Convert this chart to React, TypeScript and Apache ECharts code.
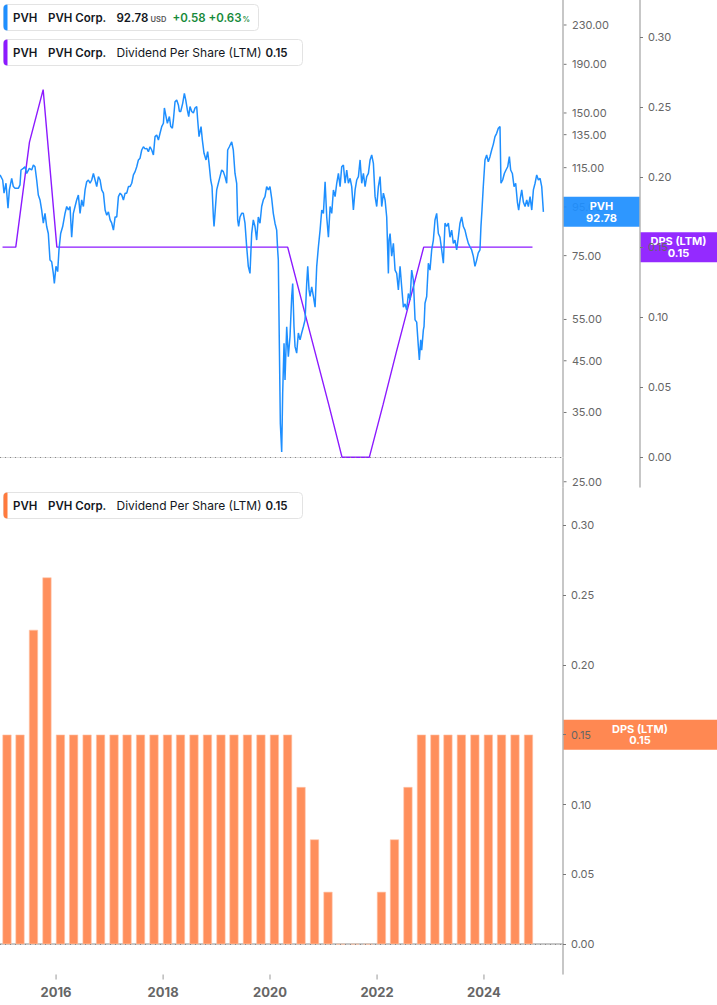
import { useEffect, useRef } from "react";
import * as echarts from "echarts";

// ---------- data ----------
const priceYears = [
  2015.036, 2015.085, 2015.110, 2015.146, 2015.183, 2015.208, 2015.251, 2015.281, 2015.312, 2015.373,
  2015.404, 2015.422, 2015.465, 2015.496, 2015.527, 2015.576, 2015.619, 2015.650, 2015.680, 2015.711,
  2015.741, 2015.772, 2015.803, 2015.833, 2015.864, 2015.895, 2015.925, 2015.956, 2015.987, 2016.017,
  2016.036, 2016.066, 2016.097, 2016.121, 2016.152, 2016.189, 2016.232, 2016.263, 2016.293, 2016.324,
  2016.354, 2016.385, 2016.416, 2016.446, 2016.477, 2016.508, 2016.538, 2016.569, 2016.600, 2016.630,
  2016.661, 2016.692, 2016.722, 2016.753, 2016.784, 2016.814, 2016.845, 2016.876, 2016.906, 2016.937,
  2016.968, 2016.998, 2017.029, 2017.060, 2017.090, 2017.121, 2017.152, 2017.182, 2017.213, 2017.244,
  2017.274, 2017.305, 2017.336, 2017.366, 2017.397, 2017.427, 2017.458, 2017.489, 2017.520, 2017.550,
  2017.581, 2017.611, 2017.642, 2017.673, 2017.703, 2017.734, 2017.765, 2017.795, 2017.826, 2017.857,
  2017.887, 2017.918, 2017.949, 2017.979, 2018.010, 2018.041, 2018.059, 2018.090, 2018.114, 2018.151,
  2018.176, 2018.206, 2018.225, 2018.255, 2018.286, 2018.317, 2018.335, 2018.360, 2018.396, 2018.427,
  2018.452, 2018.482, 2018.507, 2018.531, 2018.562, 2018.593, 2018.623, 2018.654, 2018.672, 2018.697,
  2018.734, 2018.758, 2018.789, 2018.826, 2018.856, 2018.881, 2018.912, 2018.936, 2018.961, 2018.973,
  2018.991, 2019.022, 2019.052, 2019.083, 2019.114, 2019.144, 2019.175, 2019.206, 2019.224, 2019.255,
  2019.298, 2019.328, 2019.359, 2019.390, 2019.408, 2019.426, 2019.451, 2019.482, 2019.512, 2019.543,
  2019.574, 2019.604, 2019.635, 2019.666, 2019.696, 2019.727, 2019.758, 2019.788, 2019.819, 2019.850,
  2019.880, 2019.911, 2019.942, 2019.972, 2020.003, 2020.034, 2020.064, 2020.095, 2020.126, 2020.144,
  2020.156, 2020.174, 2020.193, 2020.218, 2020.236, 2020.261, 2020.279, 2020.310, 2020.340, 2020.371,
  2020.402, 2020.420, 2020.444, 2020.463, 2020.493, 2020.524, 2020.555, 2020.585, 2020.616, 2020.647,
  2020.677, 2020.696, 2020.720, 2020.739, 2020.769, 2020.800, 2020.831, 2020.861, 2020.892, 2020.923,
  2020.953, 2020.984, 2021.015, 2021.045, 2021.076, 2021.107, 2021.137, 2021.168, 2021.199, 2021.229,
  2021.260, 2021.291, 2021.321, 2021.352, 2021.383, 2021.413, 2021.444, 2021.475, 2021.505, 2021.536,
  2021.567, 2021.597, 2021.628, 2021.659, 2021.689, 2021.720, 2021.751, 2021.781, 2021.812, 2021.843,
  2021.873, 2021.904, 2021.935, 2021.965, 2021.996, 2022.027, 2022.057, 2022.088, 2022.119, 2022.149,
  2022.180, 2022.192, 2022.211, 2022.241, 2022.272, 2022.303, 2022.333, 2022.364, 2022.395, 2022.425,
  2022.456, 2022.487, 2022.517, 2022.548, 2022.579, 2022.609, 2022.640, 2022.671, 2022.701, 2022.732,
  2022.750, 2022.775, 2022.793, 2022.824, 2022.836, 2022.854, 2022.885, 2022.916, 2022.946, 2022.977,
  2023.008, 2023.038, 2023.069, 2023.100, 2023.130, 2023.161, 2023.192, 2023.222, 2023.253, 2023.284,
  2023.314, 2023.345, 2023.376, 2023.406, 2023.437, 2023.468, 2023.498, 2023.529, 2023.560, 2023.590,
  2023.621, 2023.652, 2023.682, 2023.713, 2023.743, 2023.774, 2023.805, 2023.835, 2023.866, 2023.884,
  2023.903, 2023.927, 2023.958, 2023.989, 2024.019, 2024.050, 2024.081, 2024.111, 2024.142, 2024.173,
  2024.203, 2024.234, 2024.252, 2024.283, 2024.314, 2024.344, 2024.375, 2024.406, 2024.430, 2024.461,
  2024.492, 2024.522, 2024.553, 2024.577, 2024.602, 2024.633, 2024.663, 2024.694, 2024.725, 2024.755,
  2024.786, 2024.817, 2024.847, 2024.878, 2024.908, 2024.939, 2024.970, 2025.000, 2025.031,
];

const priceValues = [
  111.0, 108.3, 101.6, 106.6, 94.4, 103.2, 109.2, 104.9, 104.0, 104.0,
  105.8, 113.7, 114.6, 115.5, 111.8, 114.6, 113.7, 116.5, 115.5, 108.3,
  100.7, 98.3, 93.6, 87.8, 92.1, 86.4, 83.5, 73.4, 72.8, 68.8,
  65.5, 71.2, 69.4, 77.1, 83.5, 86.4, 92.1, 95.2, 93.6, 95.2,
  82.0, 92.1, 95.2, 98.3, 100.7, 92.1, 98.3, 95.2, 103.2, 107.4,
  108.3, 106.6, 108.3, 111.8, 108.3, 104.9, 110.1, 108.3, 103.2, 101.6,
  93.6, 91.3, 92.8, 89.2, 87.8, 84.9, 90.5, 90.5, 99.9, 101.6,
  100.7, 98.3, 101.6, 101.6, 104.9, 104.9, 106.6, 111.0, 112.8, 115.5,
  119.4, 120.4, 125.3, 127.3, 126.0, 126.3, 124.3, 127.3, 125.3, 122.3,
  133.7, 134.8, 131.5, 135.9, 140.4, 142.7, 153.7, 147.4, 142.7, 147.4,
  140.4, 139.3, 145.0, 158.4, 159.8, 156.0, 151.1, 151.1, 157.2, 165.0,
  159.8, 152.2, 147.4, 154.8, 151.1, 150.0, 153.7, 154.8, 145.0, 133.7,
  140.4, 131.5, 123.3, 119.4, 124.3, 117.4, 108.3, 104.9, 90.5, 86.4,
  92.1, 103.2, 106.6, 110.1, 113.7, 112.8, 110.1, 106.6, 125.3, 127.3,
  130.4, 125.3, 111.8, 106.6, 89.2, 86.4, 90.5, 92.1, 92.1, 87.8,
  78.3, 71.2, 68.8, 83.5, 89.2, 86.4, 80.9, 90.5, 87.8, 95.2,
  98.3, 99.9, 104.9, 103.2, 104.9, 99.1, 92.1, 87.8, 84.9, 77.1,
  73.4, 49.8, 33.2, 28.9, 38.4, 49.0, 41.0, 53.1, 45.9, 50.7,
  61.5, 65.5, 53.1, 48.2, 46.7, 51.5, 49.8, 51.5, 53.1, 54.9,
  65.5, 71.2, 63.5, 61.5, 64.4, 61.5, 58.4, 71.2, 78.3, 84.9,
  93.6, 92.1, 107.4, 90.5, 82.0, 95.2, 92.1, 103.2, 99.9, 106.6,
  111.8, 104.9, 115.5, 116.5, 106.6, 113.7, 106.6, 109.2, 104.9, 93.6,
  103.2, 108.3, 110.1, 119.4, 106.6, 111.8, 104.9, 110.1, 111.8, 119.4,
  122.3, 117.4, 99.9, 95.2, 104.9, 110.1, 95.2, 101.6, 98.3, 90.5,
  68.8, 80.9, 83.5, 74.8, 79.6, 69.9, 68.8, 63.5, 71.2, 64.4,
  58.4, 59.3, 57.6, 62.4, 60.5, 69.9, 66.6, 54.9, 54.3, 48.2,
  45.2, 49.8, 47.4, 52.3, 53.1, 59.5, 61.5, 72.3, 69.9, 77.1,
  80.9, 89.2, 92.1, 83.5, 82.0, 77.1, 72.3, 87.8, 86.4, 87.8,
  82.0, 84.9, 79.6, 80.9, 77.1, 82.0, 87.8, 90.5, 86.4, 84.9,
  82.0, 79.6, 78.3, 77.1, 74.8, 71.2, 73.4, 76.0, 77.1, 86.4,
  93.6, 104.9, 119.4, 122.3, 118.3, 121.3, 125.3, 128.8, 133.7, 135.9,
  139.3, 140.4, 106.6, 108.3, 111.8, 113.7, 115.5, 121.3, 113.7, 111.8,
  104.9, 106.6, 97.3, 93.6, 98.3, 103.2, 97.3, 95.2, 98.3, 95.2,
  99.9, 93.6, 103.2, 106.6, 111.0, 108.3, 109.2, 104.9, 92.78,
];

const dpsDates = [
  "2015-01-31", "2015-04-30", "2015-07-31", "2015-10-31",
  "2016-01-31", "2016-04-30", "2016-07-31", "2016-10-31",
  "2017-01-31", "2017-04-30", "2017-07-31", "2017-10-31",
  "2018-01-31", "2018-04-30", "2018-07-31", "2018-10-31",
  "2019-01-31", "2019-04-30", "2019-07-31", "2019-10-31",
  "2020-01-31", "2020-04-30", "2020-07-31", "2020-10-31",
  "2021-01-31", "2021-04-30", "2021-07-31", "2021-10-31",
  "2022-01-31", "2022-04-30", "2022-07-31", "2022-10-31",
  "2023-01-31", "2023-04-30", "2023-07-31", "2023-10-31",
  "2024-01-31", "2024-04-30", "2024-07-31", "2024-10-31",
];
const dpsValues = [
  0.15, 0.15, 0.225, 0.2625,
  0.15, 0.15, 0.15, 0.15,
  0.15, 0.15, 0.15, 0.15,
  0.15, 0.15, 0.15, 0.15,
  0.15, 0.15, 0.15, 0.15,
  0.15, 0.15, 0.1125, 0.075,
  0.0375, 0, 0, 0,
  0.0375, 0.075, 0.1125, 0.15,
  0.15, 0.15, 0.15, 0.15,
  0.15, 0.15, 0.15, 0.15,
];

const priceTicks = [25, 35, 45, 55, 75, 95, 115, 135, 150, 190, 230];
const dpsTicks = [0, 0.05, 0.1, 0.15, 0.2, 0.25, 0.3];
const yearTicks = ["2016-01-01", "2018-01-01", "2020-01-01", "2022-01-01", "2024-01-01"];

const lastPrice = 92.78;
const priceChange = 0.58;
const priceChangePct = 0.63;
const lastDps = 0.15;

const X_MIN = "2015-01-14";
const X_MAX = "2025-05-24";

const BLUE = "#1e8fff";
const PURPLE = "#8c1aff";
const ORANGE = "#ff8f5c";
const FONT = "Inter, 'Noto Sans', sans-serif";

function yearToTs(y: number) {
  const yr = Math.floor(y);
  const s = Date.UTC(yr, 0, 1);
  const e = Date.UTC(yr + 1, 0, 1);
  return s + (y - yr) * (e - s);
}
function dateTs(d: string) {
  const [a, b, c] = d.split("-").map(Number);
  return Date.UTC(a, b - 1, c);
}

function legendBox(y: number, w: number, color: string, parts: any[]) {
  const children: any[] = [
    { type: "rect", shape: { x: 3.5, y: y + 0.5, width: w, height: 26, r: 4 }, style: { fill: "#fff", stroke: "#e3e3e3", lineWidth: 1 } },
    { type: "rect", shape: { x: 3.5, y: y + 0.5, width: 4, height: 26, r: [4, 0, 0, 4] }, style: { fill: color } },
  ];
  parts.forEach((p) => {
    children.push({
      type: "text",
      x: p.x,
      y: y + 13.5 + (p.dy || 0),
      style: {
        text: p.text,
        fill: p.color || "#131722",
        font: `${p.weight || "600"} ${p.size || 11.5}px ${FONT}`,
        verticalAlign: "middle",
        align: "left",
      },
    });
  });
  return { type: "group", z: 200, children };
}

export default function App() {
  const ref = useRef<HTMLDivElement>(null);
  useEffect(() => {
    document.body.style.margin = "0";
    const chart = echarts.init(ref.current as HTMLDivElement, null, { renderer: "svg" });
    const priceData = priceYears.map((y, i) => [yearToTs(y), priceValues[i]]);
    const dpsData = dpsDates.map((d, i) => [dateTs(d), dpsValues[i]]);
    const yearTs = yearTicks.map(dateTs);

    const axisLineStyle = { color: "#b4b4b4", width: 1.5 };
    const labelBase = { color: "#666", fontSize: 11, fontFamily: FONT, margin: 8 };
    const zeroLine = {
      silent: true,
      symbol: "none",
      label: { show: false },
      lineStyle: { color: "#8a8a8a", type: [1, 4], width: 1 },
      data: [{ yAxis: 0 }],
    };

    chart.setOption({
      animation: false,
      grid: [
        { left: 0, top: 0, width: 563, height: 487, containLabel: false },
        { left: 0, top: 488, width: 563, height: 486, containLabel: false },
      ],
      xAxis: [
        {
          type: "time", gridIndex: 0, min: dateTs(X_MIN), max: dateTs(X_MAX),
          axisLine: { show: true, lineStyle: { color: "#dedede", width: 1 } },
          axisTick: { show: false }, axisLabel: { show: false }, splitLine: { show: false },
        },
        {
          type: "time", gridIndex: 1, min: dateTs(X_MIN), max: dateTs(X_MAX),
          axisLine: { show: true, lineStyle: axisLineStyle },
          axisTick: { show: false }, axisLabel: { show: false }, splitLine: { show: false },
        },
      ],
      yAxis: [
        {
          type: "log", gridIndex: 0, position: "right", min: 24.37, max: 259.7, logBase: 10,
          axisLine: { show: true, lineStyle: axisLineStyle },
          axisTick: { show: false }, axisLabel: { show: false },
          splitLine: { show: false },
        },
        {
          type: "value", gridIndex: 0, position: "right", offset: 77, min: -0.0213, max: 0.3265,
          axisLine: { show: true, lineStyle: axisLineStyle },
          axisTick: { show: true, length: 3, customValues: dpsTicks, lineStyle: { color: "#777" } },
          axisLabel: { ...labelBase, customValues: dpsTicks, formatter: (v: number) => Number(v).toFixed(2) },
          splitLine: { show: false },
        },
        {
          type: "value", gridIndex: 1, position: "right", min: -0.0213, max: 0.3265,
          axisLine: { show: true, lineStyle: axisLineStyle },
          axisTick: { show: true, length: 3, customValues: dpsTicks, lineStyle: { color: "#777" } },
          axisLabel: { ...labelBase, customValues: dpsTicks, formatter: (v: number) => Number(v).toFixed(2) },
          splitLine: { show: false },
        },
      ],
      series: [
        {
          type: "line", name: "DPS (LTM)", xAxisIndex: 0, yAxisIndex: 1, data: dpsData,
          symbol: "none", lineStyle: { color: PURPLE, width: 1.4 }, itemStyle: { color: PURPLE }, z: 2,
          markLine: zeroLine,
        },
        {
          type: "line", name: "PVH", xAxisIndex: 0, yAxisIndex: 0, data: priceData,
          symbol: "none", lineStyle: { color: BLUE, width: 1.5 }, itemStyle: { color: BLUE }, z: 3,
        },
        {
          type: "bar", name: "Dividend Per Share (LTM)", xAxisIndex: 1, yAxisIndex: 2, data: dpsData,
          barWidth: 9, itemStyle: { color: ORANGE, borderColor: "#ffc4a8", borderWidth: 0.6 },
          markLine: zeroLine,
        },
      ],
    });

    const py = chart.convertToPixel({ yAxisIndex: 0 } as any, lastPrice) as number;
    const dy1 = chart.convertToPixel({ yAxisIndex: 1 } as any, lastDps) as number;
    const dy2 = chart.convertToPixel({ yAxisIndex: 2 } as any, lastDps) as number;

    // price axis ticks + labels (log scale positions from the axis)
    const priceAxisEls: any[] = [];
    priceTicks.forEach((v) => {
      const y = chart.convertToPixel({ yAxisIndex: 0 } as any, v) as number;
      priceAxisEls.push({ type: "line", shape: { x1: 563.5, y1: y, x2: 566.5, y2: y }, style: { stroke: "#777", lineWidth: 1 } });
      priceAxisEls.push({
        type: "text", x: 572, y,
        style: { text: v.toFixed(2), fill: "#666", font: `11px ${FONT}`, align: "left", verticalAlign: "middle" },
      });
    });
    // year ticks + labels on the bottom time axis
    const yearEls: any[] = [];
    yearTs.forEach((t) => {
      const x = chart.convertToPixel({ xAxisIndex: 1 } as any, t) as number;
      yearEls.push({ type: "line", shape: { x1: x, y1: 974.5, x2: x, y2: 979.5 }, style: { stroke: "#999", lineWidth: 1 } });
      yearEls.push({
        type: "text", x, y: 992,
        style: { text: String(new Date(t).getUTCFullYear()), fill: "#666", font: `bold 13px ${FONT}`, align: "center", verticalAlign: "middle" },
      });
    });

    const badge = (x: number, w: number, cy: number, fill: string, label: string) => ({
      type: "group", z: 150,
      children: [
        { type: "rect", shape: { x, y: cy - 15, width: w, height: 30 }, style: { fill } },
        {
          type: "text", x: x + w / 2, y: cy,
          style: { text: label, fill: "#fff", font: `bold 11px ${FONT}`, align: "center", verticalAlign: "middle", lineHeight: 11.5 },
        },
      ],
    });

    const dpsLegendParts = [
      { x: 13, text: "PVH" },
      { x: 48, text: "PVH Corp." },
      { x: 116.5, text: "Dividend Per Share (LTM)", weight: "normal", size: 12 },
      { x: 265.5, text: lastDps.toFixed(2) },
    ];

    chart.setOption({
      graphic: [
        { type: "group", z: 100, children: priceAxisEls },
        { type: "group", z: 100, children: yearEls },
        badge(563, 77, py, "rgba(30,143,255,0.93)", `PVH\n${lastPrice.toFixed(2)}`),
        badge(640, 77, dy1, "rgba(140,26,255,0.93)", `DPS (LTM)\n${lastDps.toFixed(2)}`),
        badge(563, 154, dy2, "rgba(255,127,69,0.93)", `DPS (LTM)\n${lastDps.toFixed(2)}`),
        legendBox(4, 255, BLUE, [
          { x: 13, text: "PVH" },
          { x: 48, text: "PVH Corp." },
          { x: 116.5, text: lastPrice.toFixed(2) },
          { x: 150.5, text: "USD", size: 7.5, color: "#555", dy: 1.5 },
          { x: 172.5, text: `+${priceChange.toFixed(2)}`, color: "#178a3a" },
          { x: 208.5, text: `+${priceChangePct.toFixed(2)}`, color: "#178a3a" },
          { x: 242.5, text: "%", size: 7.5, color: "#178a3a", dy: 1.5 },
        ]),
        legendBox(39, 299, PURPLE, dpsLegendParts),
        legendBox(492, 299, "#ff7a3d", dpsLegendParts),
      ],
    });

    return () => chart.dispose();
  }, []);
  return <div ref={ref} style={{ position: "absolute", left: 0, top: 0, width: 717, height: 1005 }} />;
}
